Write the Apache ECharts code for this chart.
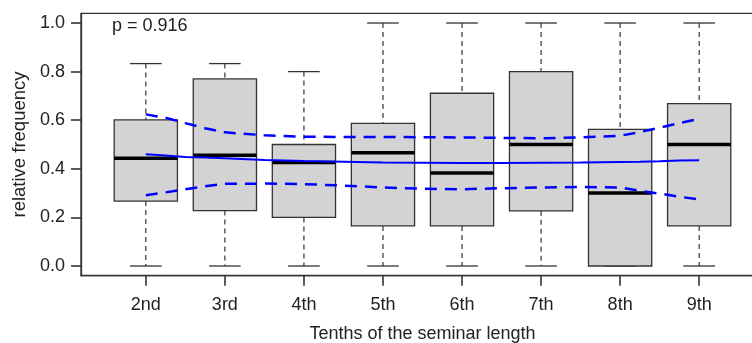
<!DOCTYPE html>
<html><head><meta charset="utf-8">
<script src="https://cdn.jsdelivr.net/npm/echarts@6/dist/echarts.min.js"></script>
<style>html,body{margin:0;padding:0;background:#fff}#c{width:752px;height:343px}</style>
</head><body><div id="c"></div>
<script>
// Box plot statistics per tenth of the seminar
const categories = ['2nd','3rd','4th','5th','6th','7th','8th','9th'];
const whiskerLow  = [0.000,0.000,0.000,0.000,0.000,0.000,0.000,0.000];
const q1          = [0.267,0.228,0.200,0.165,0.165,0.227,0.000,0.165];
const medians     = [0.443,0.456,0.426,0.466,0.383,0.500,0.300,0.500];
const q3          = [0.601,0.770,0.500,0.587,0.711,0.800,0.562,0.668];
const whiskerHigh = [0.833,0.833,0.800,1.000,1.000,1.000,1.000,1.000];

// Fitted curve and confidence band (x = box position, 1 = "2nd")
const curveX    = [1,1.25,1.5,1.75,2,2.5,3,3.5,4,4.5,5,5.5,6,6.5,7,7.25,7.5,7.75,8];
const fitValues = [0.460,0.455,0.449,0.446,0.443,0.436,0.432,0.429,0.426,0.425,0.424,0.424,0.425,0.426,0.428,0.429,0.431,0.434,0.435];
const upperCI   = [0.624,0.610,0.588,0.567,0.550,0.538,0.532,0.531,0.531,0.530,0.529,0.527,0.526,0.529,0.536,0.551,0.569,0.588,0.605];
const lowerCI   = [0.291,0.303,0.316,0.328,0.338,0.339,0.337,0.331,0.323,0.318,0.316,0.320,0.323,0.325,0.323,0.309,0.298,0.285,0.274];

const yTicks = [0,0.2,0.4,0.6,0.8,1.0];
const xTicks = [1,2,3,4,5,6,7,8];
const pLabel = 'p = 0.916';
const xTitle = 'Tenths of the seminar length';
const yTitle = 'relative frequency';

const FONT = 'Liberation Sans, Arial, sans-serif';
const boxData = categories.map((c,i)=>[i+1, whiskerLow[i], q1[i], medians[i], q3[i], whiskerHigh[i]]);
const pair = arr => curveX.map((x,i)=>[x, arr[i]]);

const chart = echarts.init(document.getElementById('c'), null, {renderer:'canvas'});
chart.setOption({
  animation:false,
  backgroundColor:'#fff',
  title:{text:pLabel, left:112, top:17, padding:0,
    textStyle:{fontFamily:FONT, fontSize:18, fontWeight:'normal', color:'#222'}},
  grid:{left:81, top:13.3, width:683, height:262.4, show:true, borderColor:'#333', borderWidth:1.3,
    backgroundColor:'transparent', containLabel:false, outerBoundsMode:'none'},
  xAxis:{type:'value', min:0.18, max:8.82, position:'bottom',
    name:xTitle, nameLocation:'middle', nameGap:49,
    nameTextStyle:{fontFamily:FONT, fontSize:18, color:'#222'},
    axisLine:{show:true, onZero:false, lineStyle:{color:'#333', width:1.3}},
    axisTick:{show:true, inside:false, customValues:xTicks, length:10, lineStyle:{color:'#333', width:1.6}},
    axisLabel:{customValues:xTicks, margin:20, fontFamily:FONT, fontSize:18, color:'#222',
      formatter:v=>categories[Math.round(v)-1]},
    splitLine:{show:false}},
  yAxis:{type:'value', min:-0.04, max:1.04, position:'left',
    name:yTitle, nameLocation:'middle', nameGap:43,
    nameTextStyle:{fontFamily:FONT, fontSize:18.5, color:'#222'},
    axisLine:{show:true, onZero:false, lineStyle:{color:'#333', width:1.3}},
    axisTick:{show:true, inside:false, customValues:yTicks, length:10, lineStyle:{color:'#333', width:1.6}},
    axisLabel:{customValues:yTicks, margin:16, fontFamily:FONT, fontSize:18, color:'#222',
      formatter:v=>v.toFixed(1)},
    splitLine:{show:false}},
  series:[
    {type:'custom', data:boxData, encode:{x:0, y:[1,2,3,4,5]}, z:2,
     renderItem:(params, api)=>{
       const x = api.value(0);
       const lo = api.coord([x, api.value(1)]);
       const b1 = api.coord([x, api.value(2)]);
       const md = api.coord([x, api.value(3)]);
       const b3 = api.coord([x, api.value(4)]);
       const hi = api.coord([x, api.value(5)]);
       const cx = lo[0];
       const bw = api.size([0.8, 0])[0];
       const cw = api.size([0.4, 0])[0];
       const dashed = {stroke:'#333', lineWidth:1.2, lineDash:[5,4]};
       const solid = {stroke:'#333', lineWidth:1.3};
       return {type:'group', children:[
         {type:'line', shape:{x1:cx, y1:hi[1], x2:cx, y2:b3[1]}, style:dashed},
         {type:'line', shape:{x1:cx, y1:b1[1], x2:cx, y2:lo[1]}, style:dashed},
         {type:'line', shape:{x1:cx-cw/2, y1:hi[1], x2:cx+cw/2, y2:hi[1]}, style:solid},
         {type:'line', shape:{x1:cx-cw/2, y1:lo[1], x2:cx+cw/2, y2:lo[1]}, style:solid},
         {type:'rect', shape:{x:cx-bw/2, y:b3[1], width:bw, height:b1[1]-b3[1]},
          style:{fill:'#d3d3d3', stroke:'#333', lineWidth:1.3}},
         {type:'line', shape:{x1:cx-bw/2, y1:md[1], x2:cx+bw/2, y2:md[1]}, style:{stroke:'#000', lineWidth:3.5}}
       ]};
     }},
    {type:'line', data:pair(fitValues), showSymbol:false, z:5,
     lineStyle:{color:'#0000ff', width:2}},
    {type:'line', data:pair(upperCI), showSymbol:false, z:5,
     lineStyle:{color:'#0000ff', width:2.5, type:[12,8]}},
    {type:'line', data:pair(lowerCI), showSymbol:false, z:5,
     lineStyle:{color:'#0000ff', width:2.5, type:[12,8]}}
  ]
});
</script>
</body></html>
